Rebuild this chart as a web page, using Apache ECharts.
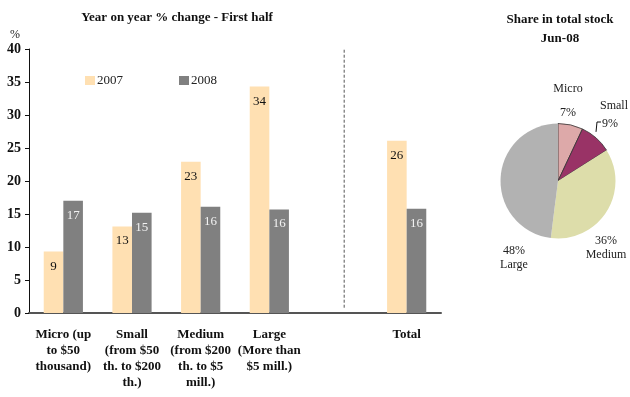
<!DOCTYPE html>
<html>
<head>
<meta charset="utf-8">
<script src="https://cdn.jsdelivr.net/npm/echarts@6/dist/echarts.min.js"></script>
<style>
  html, body { margin: 0; padding: 0; background: #fff; }
  #chart { width: 630px; height: 397px; }
</style>
</head>
<body>
<div id="chart"></div>
<script>
// Year-on-year % change by firm size, first half
const categories = [
  'Micro (up\nto $50\nthousand)',
  'Small\n(from $50\nth. to $200\nth.)',
  'Medium\n(from $200\nth. to $5\nmill.)',
  'Large\n(More than\n$5 mill.)',
  '',
  'Total'
];
const values2007 = [9.3, 13.1, 22.9, 34.3, null, 26.1];
const values2008 = [17.0, 15.2, 16.1, 15.7, null, 15.8];
const yTicks = { min: 0, max: 40, step: 5 };

// Share in total stock, Jun-08
const shareNames = ['Micro', 'Small', 'Medium', 'Large'];
const shareValues = [7, 9, 36, 48];
const shareColors = ['#DDA9A9', '#993366', '#DDDDAA', '#B2B2B2'];

// separator between the size classes and the total (on a 0..6 scale across the categories)
const separatorAt = 4.59;
const separatorSpan = [0.8, 40.4];

const FONT = 'Liberation Serif';
const chart = echarts.init(document.getElementById('chart'), null, { renderer: 'canvas' });

const pieLabelPos = {
  Micro:  { x: 568, y: 101, align: 'center' },
  Small:  { x: 600, y: 115, align: 'left' },
  Medium: { x: 606, y: 248, align: 'center' },
  Large:  { x: 514, y: 258, align: 'center' }
};

const option = {
  animation: false,
  backgroundColor: '#fff',
  textStyle: { fontFamily: FONT },
  title: [
    {
      text: 'Year on year % change - First half',
      left: 177, top: 11, textAlign: 'center', padding: 0,
      textStyle: { fontFamily: FONT, fontWeight: 'bold', fontSize: 13, color: '#111' }
    },
    {
      text: 'Share in total stock\nJun-08',
      left: 560, top: 10, textAlign: 'center', padding: 0,
      textStyle: { fontFamily: FONT, fontWeight: 'bold', fontSize: 13, lineHeight: 19, color: '#111' }
    },
    {
      text: '%',
      left: 15, top: 29, textAlign: 'center', padding: 0,
      textStyle: { fontFamily: FONT, fontWeight: 'normal', fontSize: 12, color: '#222' }
    }
  ],
  legend: {
    data: ['2007', '2008'],
    left: 85, top: 74, padding: 0,
    itemWidth: 10, itemHeight: 9, itemGap: 56,
    icon: 'rect',
    textStyle: { fontFamily: FONT, fontSize: 13, color: '#222', padding: [0, 0, 0, -3] }
  },
  grid: { left: 29, right: 189, top: 49, bottom: 84, containLabel: false },
  xAxis: [
    {
      type: 'category',
      data: categories,
      axisLine: { lineStyle: { color: '#555', width: 2 } },
      axisTick: { show: false },
      axisLabel: {
        interval: 0, margin: 14,
        fontFamily: FONT, fontWeight: 'bold', fontSize: 13, lineHeight: 15.8, color: '#111'
      }
    },
    { type: 'value', min: 0, max: 6, show: false }
  ],
  yAxis: {
    type: 'value',
    min: yTicks.min, max: yTicks.max, interval: yTicks.step,
    axisLine: { show: true, lineStyle: { color: '#111', width: 1 } },
    axisTick: { show: true, length: 4, lineStyle: { color: '#111' } },
    splitLine: { show: false },
    axisLabel: { margin: 8, fontFamily: FONT, fontWeight: 'bold', fontSize: 14, color: '#111' }
  },
  series: [
    {
      name: '2007', type: 'bar', data: values2007,
      barWidth: 19.6, barGap: '0%',
      itemStyle: { color: '#FFE0B2' },
      label: {
        show: true, position: 'insideTop', distance: 8,
        fontFamily: FONT, fontSize: 13, color: '#111',
        formatter: p => Math.round(p.value)
      }
    },
    {
      name: '2008', type: 'bar', data: values2008,
      barWidth: 19.6, barGap: '0%',
      itemStyle: { color: '#808080' },
      label: {
        show: true, position: 'insideTop', distance: 8,
        fontFamily: FONT, fontSize: 13, color: '#f2f2f2',
        formatter: p => Math.round(p.value)
      }
    },
    {
      // dashed vertical separator
      name: 'sep', type: 'line', xAxisIndex: 1, yAxisIndex: 0,
      data: separatorSpan.map(v => [separatorAt, v]),
      symbol: 'none', silent: true, z: 1,
      lineStyle: { type: [3, 2], color: '#555', width: 1 }
    },
    {
      name: 'share', type: 'pie',
      center: [558, 181], radius: 57.5,
      startAngle: 90, clockwise: true,
      avoidLabelOverlap: false,
      data: shareNames.map((n, i) => ({
        name: n, value: shareValues[i],
        itemStyle: {
          color: shareColors[i],
          borderColor: i < 2 ? '#333' : 'rgba(0,0,0,0)',
          borderWidth: i < 2 ? 0.8 : 0
        },
        labelLine: { show: n === 'Small' }
      })),
      label: {
        show: true, position: 'outside', overflow: 'none', alignTo: 'none',
        fontFamily: FONT, fontSize: 12, color: '#222',
        formatter: p => {
          if (p.name === 'Micro') return '{a|Micro}\n{a|' + p.value + '%}';
          if (p.name === 'Small') return '{b|Small}\n{c|' + p.value + '%}';
          return p.value + '%\n' + p.name;
        },
        lineHeight: 14,
        rich: {
          a: { fontFamily: FONT, fontSize: 12, color: '#222', lineHeight: 24, align: 'center' },
          b: { fontFamily: FONT, fontSize: 12, color: '#222', lineHeight: 18 },
          c: { fontFamily: FONT, fontSize: 12, color: '#222', lineHeight: 18, padding: [0, 0, 0, 2] }
        }
      },
      labelLine: { length: 4, length2: 4, lineStyle: { color: '#111', width: 1 } },
      labelLayout: p => {
        const name = shareNames[p.dataIndex];
        const pos = pieLabelPos[name];
        const out = { x: pos.x, y: pos.y, align: pos.align, verticalAlign: 'middle' };
        if (name === 'Small' && p.labelLinePoints) {
          // bracket-shaped leader from the slice edge up to the percentage
          const start = p.labelLinePoints[0];
          const tipY = pos.y + 7;
          out.labelLinePoints = [[start[0], start[1] - 6], [pos.x - 3, tipY], [pos.x + 1, tipY]];
        }
        return out;
      }
    }
  ]
};

chart.setOption(option);
</script>
</body>
</html>
